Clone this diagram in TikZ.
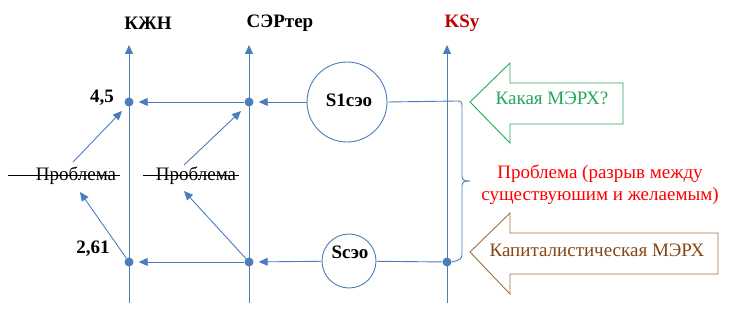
\documentclass[tikz,border=0pt]{standalone}
\usepackage{fontspec}
\setmainfont{Liberation Serif}
\newfontfamily\tnr{Liberation Serif}
\usetikzlibrary{arrows.meta}
\definecolor{ln}{RGB}{74,126,187}
\definecolor{dred}{RGB}{192,0,0}
\definecolor{grn}{RGB}{36,168,92}
\definecolor{brn}{RGB}{132,70,20}
\definecolor{brnl}{RGB}{160,112,70}
\tikzset{
  axis/.style={draw=ln, line width=0.9pt, -{Triangle[length=9pt,width=8pt]}},
  arr/.style={draw=ln, line width=0.9pt, -{Triangle[length=9pt,width=8pt]}, shorten >=5pt},
  plain/.style={draw=ln, line width=0.9pt},
  dot/.style={circle, fill=ln, inner sep=0pt, minimum size=9pt},
  lab/.style={font=\tnr\bfseries\fontsize{19}{22}\selectfont, inner sep=0pt},
  txt/.style={font=\tnr\fontsize{19}{22}\selectfont, inner sep=0pt},
  bub/.style={circle, draw=ln, line width=0.9pt, inner sep=0pt},
  blockarrow/.style={line width=0.9pt, fill=white}
}
\begin{document}
\begin{tikzpicture}[x=1pt,y=-1pt]
\useasboundingbox (0,0) rectangle (731,313);
% axes
\coordinate (kb) at (129,303); \coordinate (kt) at (129,45);
\coordinate (sb) at (249,303); \coordinate (st) at (249,45);
\coordinate (ub) at (447,303); \coordinate (ut) at (447,45);
\draw[axis] (kb) -- (kt);
\draw[axis] (sb) -- (st);
\draw[axis] (ub) -- (ut);
\node[lab] (lk) at (148,23) {КЖН};
\node[lab] (ls) at (280,23) {СЭРтер};
\node[lab, text=dred] (lu) at (462,23) {KSy};
% dots
\node[dot] (k1) at (129,102) {};
\node[dot] (s1d) at (249,102) {};
\node[dot] (k2) at (129,262) {};
\node[dot] (s2d) at (249,262) {};
\node[dot] (u2) at (447,262) {};
% circles
\node[bub, minimum size=80pt] (S1) at (347,102) {};
\node[lab] at (349,100) {S1сэо};
\node[bub, minimum size=54pt] (S0) at (349,261) {};
\node[lab] at (350,252) {Sсэо};
% value labels
\node[lab] (v1) at (102,98) {4,5};
\node[lab] (v2) at (93,249) {2,61};
% horizontal arrows
\draw[arr] (S1) -- (s1d);
\draw[arr] (s1d) -- (k1);
\draw[arr] (S0) -- (s2d);
\draw[arr] (s2d) -- (k2);
\draw[plain] (u2) -- (S0);
% brace
\draw[plain] (S1.east) -- (457,101) .. controls (461,101) and (462,102) .. (462,106)
  -- (462,176) .. controls (462,180) and (464,181) .. (470,181)
  .. controls (464,181) and (462,182) .. (462,186)
  -- (462,254) .. controls (462,259) and (460,260) .. (u2.east);
% problem labels
\node[txt] (p1) at (76,176) {Проблема};
\node[txt] (p2) at (196,176) {Проблема};
\coordinate (p1s) at (8,175);
\coordinate (p2s) at (143,175);
\draw[line width=0.8pt] (p1s) -- ([xshift=4pt]p1.east |- p1s);
\draw[line width=0.8pt] (p2s) -- ([xshift=3pt]p2.east |- p2s);
% diagonal arrows
\coordinate (d1a) at (73,162); \coordinate (d1b) at (122,111);
\coordinate (d2a) at (184,165); \coordinate (d2b) at (241,111);
\coordinate (d3b) at (80,192); \coordinate (d4b) at (184,191);
\draw[axis] (d1a) -- (d1b);
\draw[axis] (d2a) -- (d2b);
\draw[axis] (k2) -- (d3b);
\draw[axis] (s2d) -- (d4b);
% block arrows
\draw[blockarrow, draw=grn] (470,102) -- (510,63) -- (510,83) -- (623,83) -- (623,124) -- (510,124) -- (510,143) -- cycle;
\node[txt, text=grn] (q) at (552,98) {Какая МЭРХ?};
\draw[blockarrow, draw=brnl] (470,252) -- (510,213) -- (510,233) -- (718,233) -- (718,274) -- (510,274) -- (510,294) -- cycle;
\node[txt, text=brn] (c) at (597,250) {Капиталистическая МЭРХ};
\node[txt, text=red, align=center] (pr) at (600,185) {Проблема (разрыв между\\существуюшим и желаемым)};
\end{tikzpicture}
\end{document}
